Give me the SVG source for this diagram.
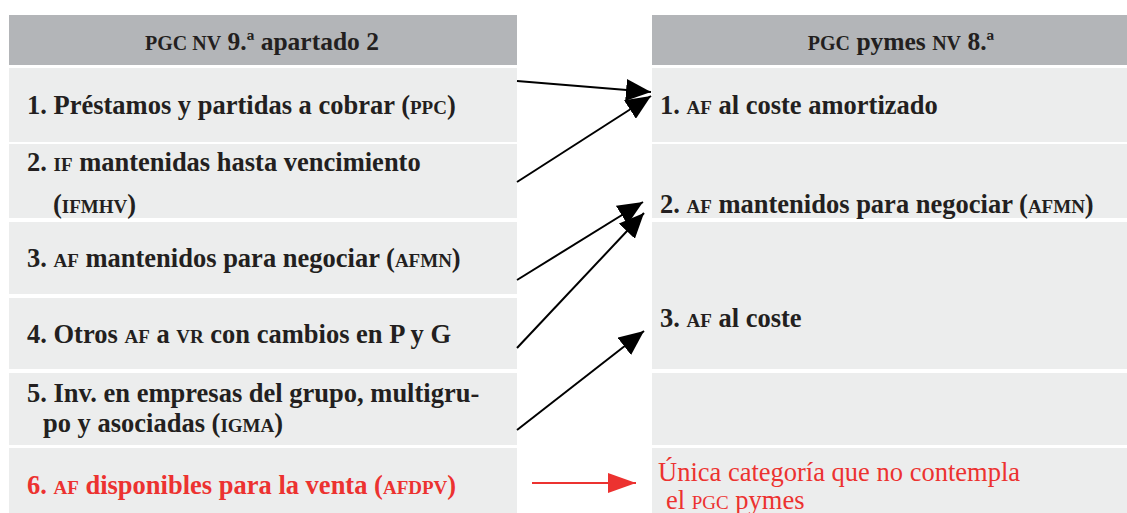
<svg xmlns="http://www.w3.org/2000/svg" width="1127" height="513" viewBox="0 0 1127 513">
  <style>
    .hdr { fill: #b3b5b8; }
    .row { fill: #eceded; }
    .t { font-family: "Liberation Serif", "Times New Roman", serif; font-size: 26.5px; font-weight: bold; fill: #231f20; }
    .sc { font-size: 19px; }
    .h { font-size: 25.5px; }
    .hsc { font-size: 20px; }
    .red { fill: #ec3230; }
    .reg { font-weight: normal; }
    .conn { stroke: #000; stroke-width: 2; fill: none; }
    .connr { stroke: #ec3230; stroke-width: 2; fill: none; }
  </style>
  <defs>
    <marker id="ah" markerUnits="userSpaceOnUse" markerWidth="25" markerHeight="22" refX="25" refY="11" orient="auto">
      <path d="M0,0 L25,11 L0,22 Z" fill="#000"/>
    </marker>
    <marker id="ahr" markerUnits="userSpaceOnUse" markerWidth="28" markerHeight="20" refX="28" refY="10" orient="auto">
      <path d="M0,0 L28,10 L0,20 Z" fill="#ec3230"/>
    </marker>
  </defs>
  <rect width="1127" height="513" fill="#fff"/>

  <g id="left-header">
    <rect class="hdr" x="9" y="15" width="508" height="50"/>
    <text class="t h" x="262" y="50" text-anchor="middle"><tspan class="hsc">PGC NV</tspan> 9.ª apartado 2</text>
  </g>
  <g id="left-1">
    <rect class="row" x="9" y="68" width="508" height="74"/>
    <text class="t" x="27" y="114">1. Préstamos y partidas a cobrar (<tspan class="sc">PPC</tspan>)</text>
  </g>
  <g id="left-2">
    <rect class="row" x="9" y="144" width="508" height="74"/>
    <text class="t" x="27" y="171">2. <tspan class="sc">IF</tspan> mantenidas hasta vencimiento</text>
    <text class="t" x="53" y="213">(<tspan class="sc">IFMHV</tspan>)</text>
  </g>
  <g id="left-3">
    <rect class="row" x="9" y="222" width="508" height="72"/>
    <text class="t" x="27" y="267">3. <tspan class="sc">AF</tspan> mantenidos para negociar (<tspan class="sc">AFMN</tspan>)</text>
  </g>
  <g id="left-4">
    <rect class="row" x="9" y="298" width="508" height="71"/>
    <text class="t" x="27" y="343">4. Otros <tspan class="sc">AF</tspan> a <tspan class="sc">VR</tspan> con cambios en P y G</text>
  </g>
  <g id="left-5">
    <rect class="row" x="9" y="373" width="508" height="72"/>
    <text class="t" x="27" y="402">5. Inv. en empresas del grupo, multigru-</text>
    <text class="t" x="43" y="432">po y asociadas (<tspan class="sc">IGMA</tspan>)</text>
  </g>
  <g id="left-6">
    <rect class="row" x="9" y="448" width="508" height="65"/>
    <text class="t red" x="27" y="494">6. <tspan class="sc">AF</tspan> disponibles para la venta (<tspan class="sc">AFDPV</tspan>)</text>
  </g>

  <g id="right-header">
    <rect class="hdr" x="652" y="15" width="490" height="50"/>
    <text class="t h" x="901" y="50" text-anchor="middle"><tspan class="hsc">PGC</tspan> pymes <tspan class="hsc">NV</tspan> 8.ª</text>
  </g>
  <g id="right-1">
    <rect class="row" x="652" y="68" width="490" height="74"/>
    <text class="t" x="660" y="114">1. <tspan class="sc">AF</tspan> al coste amortizado</text>
  </g>
  <g id="right-2">
    <rect class="row" x="652" y="144" width="490" height="74"/>
    <text class="t" x="660" y="213">2. <tspan class="sc">AF</tspan> mantenidos para negociar (<tspan class="sc">AFMN</tspan>)</text>
  </g>
  <g id="right-3">
    <rect class="row" x="652" y="222" width="490" height="147"/>
    <text class="t" x="660" y="327">3. <tspan class="sc">AF</tspan> al coste</text>
  </g>
  <g id="right-4">
    <rect class="row" x="652" y="373" width="490" height="72"/>
  </g>
  <g id="right-5">
    <rect class="row" x="652" y="448" width="490" height="65"/>
    <text class="t red reg" x="658" y="481">Única categoría que no contempla</text>
    <text class="t red reg" x="666" y="509">el <tspan class="sc">PGC</tspan> pymes</text>
  </g>

  <g id="connectors">
    <line class="conn" x1="517" y1="81" x2="651" y2="92" marker-end="url(#ah)"/>
    <line class="conn" x1="517" y1="182" x2="651" y2="96" marker-end="url(#ah)"/>
    <line class="conn" x1="517" y1="280" x2="643" y2="202" marker-end="url(#ah)"/>
    <line class="conn" x1="517" y1="348" x2="644" y2="213" marker-end="url(#ah)"/>
    <line class="conn" x1="517" y1="430" x2="644" y2="331" marker-end="url(#ah)"/>
    <line class="connr" x1="532" y1="483" x2="636" y2="483" marker-end="url(#ahr)"/>
  </g>
</svg>
